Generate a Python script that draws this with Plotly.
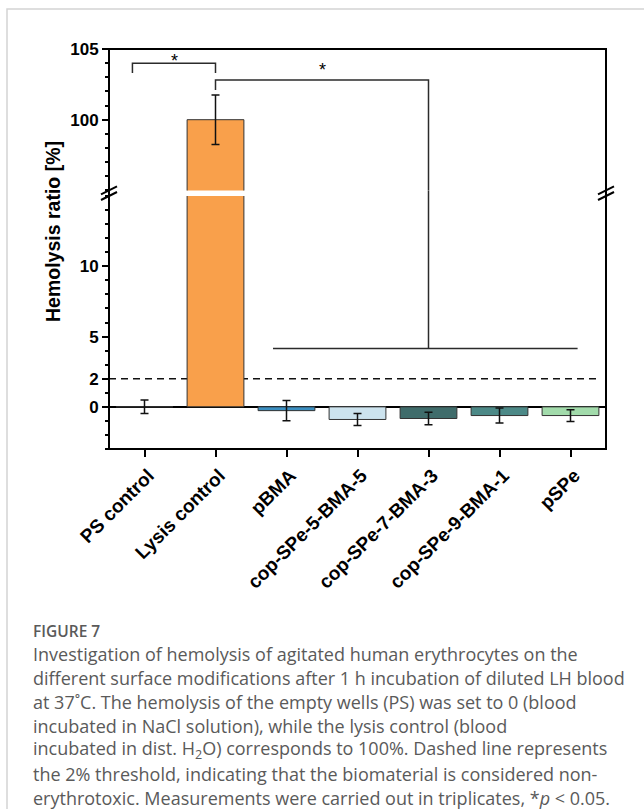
import plotly.graph_objects as go

# ---------------- data ----------------
categories = ["PS control", "Lysis control", "pBMA", "cop-SPe-5-BMA-5",
              "cop-SPe-7-BMA-3", "cop-SPe-9-BMA-1", "pSPe"]
hemolysis = [0.0, 100.0, -0.27, -0.90, -0.83, -0.62, -0.62]
sd = [0.48, 1.75, 0.72, 0.42, 0.45, 0.53, 0.42]
bar_colors = ["rgba(0,0,0,0)", "#F9A04B", "#3A8FC2", "#CCE3EE",
              "#3F6C6B", "#4C8987", "#A2DBAB"]

threshold = 2
lower_range = [-3, 15]
upper_range = [95, 105]
lower_ticks = [0, 2, 5, 10]
upper_ticks = [100, 105]

# significance brackets
bracket1 = dict(x0=-0.17, x1=1, y=104.0, leg=103.3, sx=0.42, sy=104.55)
bracket2 = dict(x0=1, x1=4, y=102.8, leg=102.1, sx=2.5, sy=103.95,
                drop_to=4.15, hx0=1.81, hx1=6.1)

caption_title = "FIGURE 7"
caption_lines = [
    "Investigation of hemolysis of agitated human erythrocytes on the",
    "different surface modifications after 1 h incubation of diluted LH blood",
    "at 37˚C. The hemolysis of the empty wells (PS) was set to 0 (blood",
    "incubated in NaCl solution), while the lysis control (blood",
    "incubated in dist. H<sub>2</sub>O) corresponds to 100%. Dashed line represents",
    "the 2% threshold, indicating that the biomaterial is considered non-",
    "erythrotoxic. Measurements were carried out in triplicates, *<i>p</i> &lt; 0.05.",
]

# ---------------- layout geometry ----------------
W, H = 644, 809
ML, MR, MT, MB = 109, 38, 49, 360
PW, PH = W - ML - MR, H - MT - MB
LOWER_DOM = [0, 0.6325]
UPPER_DOM = [0.6465, 1]


def px_x(px):
    return (px - ML) / PW


def px_y(py):
    return (H - MB - py) / PH


BOLD = "Liberation Sans, Arial, sans-serif"

fig = go.Figure()

lo_err = [e if v <= lower_range[1] else None for v, e in zip(hemolysis, sd)]
fig.add_trace(go.Bar(
    x=categories, y=hemolysis, width=0.8,
    marker=dict(color=bar_colors, line=dict(color="#333333", width=1)),
    error_y=dict(type="data", array=lo_err, visible=True, color="#111111",
                 thickness=1.5, width=4),
    xaxis="x", yaxis="y", showlegend=False,
))
hi_err = [e if v >= upper_range[0] else None for v, e in zip(hemolysis, sd)]
fig.add_trace(go.Bar(
    x=categories, y=hemolysis, width=0.8,
    marker=dict(color=bar_colors, line=dict(color="#333333", width=1)),
    error_y=dict(type="data", array=hi_err, visible=True, color="#111111",
                 thickness=1.5, width=4),
    xaxis="x", yaxis="y2", showlegend=False,
))

shapes = []
line_c = "#2b2b2b"
shapes.append(dict(type="line", xref="x", yref="y", x0=-0.5, x1=6.38,
                   y0=threshold, y1=threshold, layer="below",
                   line=dict(color="#111111", width=1.6, dash="7px,5px")))
b = bracket1
shapes.append(dict(type="path", xref="x", yref="y2",
                   path=f"M {b['x0']},{b['leg']} L {b['x0']},{b['y']} L {b['x1']},{b['y']} L {b['x1']},{b['leg']}",
                   line=dict(color=line_c, width=1.5)))
b = bracket2
shapes.append(dict(type="path", xref="x", yref="y2",
                   path=f"M {b['x0']},{b['leg']} L {b['x0']},{b['y']} L {b['x1']},{b['y']} L {b['x1']},{upper_range[0]}",
                   line=dict(color=line_c, width=1.5)))
shapes.append(dict(type="line", xref="x", yref="paper", x0=b['x1'], x1=b['x1'],
                   y0=LOWER_DOM[1], y1=UPPER_DOM[0], line=dict(color=line_c, width=1.5)))
shapes.append(dict(type="line", xref="x", yref="y", x0=b['x1'], x1=b['x1'],
                   y0=lower_range[1], y1=b['drop_to'], line=dict(color=line_c, width=1.5)))
shapes.append(dict(type="line", xref="x", yref="y", x0=b['hx0'], x1=b['hx1'],
                   y0=b['drop_to'], y1=b['drop_to'], line=dict(color=line_c, width=1.5)))
shapes.append(dict(type="rect", xref="paper", yref="paper", x0=0, x1=1, y0=0, y1=1,
                   line=dict(color="black", width=2)))
for xa in (0, 1):
    for ya in (UPPER_DOM[0], LOWER_DOM[1]):
        shapes.append(dict(type="line", xref="paper", yref="paper",
                           xsizemode="pixel", ysizemode="pixel",
                           xanchor=xa, yanchor=ya, x0=-8, x1=8, y0=-4, y1=4,
                           line=dict(color="black", width=2)))
shapes.append(dict(type="path", xref="paper", yref="paper",
                   path=f"M {px_x(7)},{px_y(H + 5)} L {px_x(7)},{px_y(9)} L {px_x(W + 5)},{px_y(9)}",
                   line=dict(color="#d4d4d4", width=1.5)))

annotations = []
annotations.append(dict(text="Hemolysis ratio [%]", textangle=-90, xref="paper", yref="paper",
                        x=px_x(53), y=px_y(232), xanchor="center", yanchor="middle", showarrow=False,
                        font=dict(family=BOLD, size=19.5, color="black", weight="bold")))
for b in (bracket1, bracket2):
    annotations.append(dict(text="*", xref="x", yref="y2", x=b['sx'], y=b['sy'],
                            xanchor="center", yanchor="middle", showarrow=False, yshift=-6,
                            font=dict(family=BOLD, size=18, color="black")))
annotations.append(dict(text=caption_title, xref="paper", yref="paper", x=px_x(32), y=px_y(631),
                        xanchor="left", yanchor="middle", showarrow=False, borderpad=0,
                        font=dict(family="Open Sans", size=15.5, color="#5a5a5a", weight=600)))
for i, t in enumerate(caption_lines):
    annotations.append(dict(text=t, xref="paper", yref="paper", x=px_x(32), y=px_y(653.5 + 24.0 * i),
                            xanchor="left", yanchor="middle", showarrow=False, borderpad=0,
                            font=dict(family="Open Sans", size=18, color="#5a5a5a")))

tickfont = dict(family=BOLD, size=17, color="black", weight="bold")
xtickfont = dict(family=BOLD, size=19, color="black", weight="bold")
fig.update_layout(
    width=W, height=H, autosize=False,
    margin=dict(l=ML, r=MR, t=MT, b=MB),
    paper_bgcolor="white", plot_bgcolor="white",
    barmode="overlay",
    xaxis=dict(type="category", range=[-0.5, 6.5], anchor="y", showline=False, showgrid=False,
               zeroline=False, ticks="outside", ticklen=7, tickwidth=1.5, tickcolor="black",
               tickangle=-45, tickfont=xtickfont, ticklabelshift=4),
    yaxis=dict(domain=LOWER_DOM, range=lower_range, anchor="x", showgrid=False,
               showline=False, zeroline=True, zerolinecolor="black", zerolinewidth=2,
               tickmode="array", tickvals=lower_ticks, ticks="outside", ticklen=6,
               tickwidth=1.5, tickcolor="black", tickfont=tickfont,
               minor=dict(tickmode="linear", tick0=0, dtick=1, ticks="outside", ticklen=3.5,
                          tickwidth=1.5, tickcolor="black")),
    yaxis2=dict(domain=UPPER_DOM, range=upper_range, anchor="x", showgrid=False,
                showline=False, zeroline=False,
                tickmode="array", tickvals=upper_ticks, ticks="outside", ticklen=6,
                tickwidth=1.5, tickcolor="black", tickfont=tickfont,
                minor=dict(tickmode="linear", tick0=0, dtick=1, ticks="outside", ticklen=3.5,
                           tickwidth=1.5, tickcolor="black")),
    shapes=shapes,
    annotations=annotations,
)

fig.write_html("out.html")
